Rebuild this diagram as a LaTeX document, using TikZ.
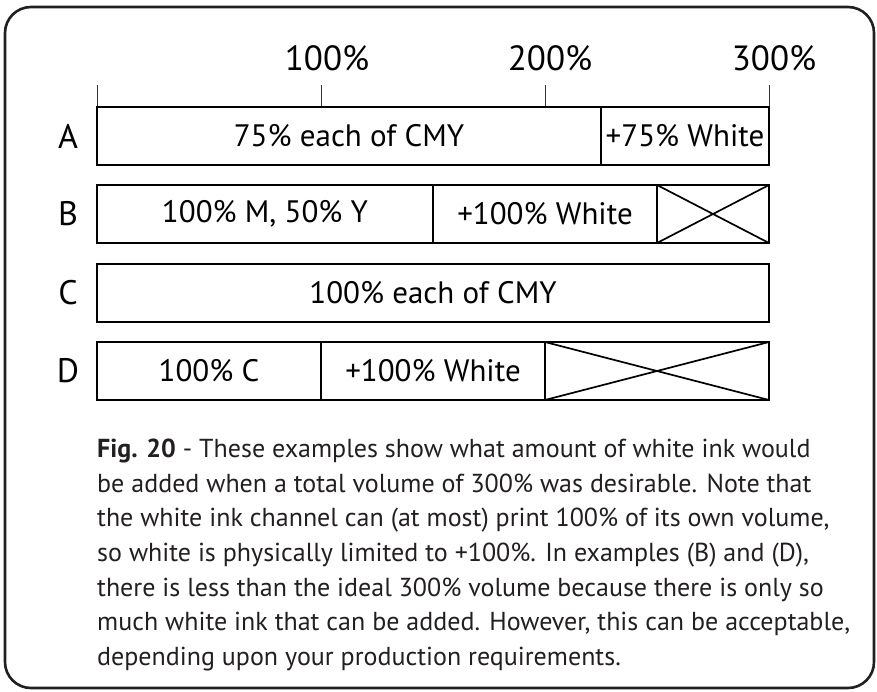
\documentclass[tikz,border=0pt]{standalone}
\usepackage{fontspec}
\setmainfont{PT Sans}
\definecolor{ink}{HTML}{231F20}
\tikzset{
  seg/.style={draw=black, line width=1.6pt, minimum height=58pt, inner sep=0pt, outer sep=0pt, anchor=north west, font=\fontsize{31}{36}\selectfont, text=black},
  rowlab/.style={font=\fontsize{34}{40}\selectfont, text=black, anchor=center},
  ticklab/.style={font=\fontsize{35}{40}\selectfont, text=black, anchor=base},
  tickline/.style={draw=black!80, line width=0.8pt},
  capline/.style={font=\fontsize{26}{34}\selectfont, text=ink, anchor=base west, inner sep=0pt},
  crossline/.style={draw=black, line width=1.7pt},
}
\begin{document}
\begin{tikzpicture}[x=1pt,y=-1pt]
\useasboundingbox (0,0) rectangle (877,691);
\draw[line width=2.6pt, rounded corners=26pt, draw=ink] (5,7) rectangle (874,688);

% scale
\coordinate (t0) at (97,85);
\coordinate (t1) at (321,85);
\coordinate (t2) at (545,85);
\coordinate (t3) at (769,85);
\coordinate (b0) at (97,107);
\coordinate (b1) at (321,107);
\coordinate (b2) at (545,107);
\coordinate (b3) at (769,107);
\draw[tickline] (t0) -- (b0);
\draw[tickline] (t1) -- (b1);
\draw[tickline] (t2) -- (b2);
\draw[tickline] (t3) -- (b3);
\node[ticklab] (l100) at (327,70) {100\%};
\node[ticklab] (l200) at (550,70) {200\%};
\node[ticklab] (l300) at (774,70) {300\%};

% row A
\node[seg, minimum width=504pt] (a1) at (97,107) {75\% each of CMY};
\node[seg, minimum width=168pt] (a2) at (601,107) {+75\% White};
% row B
\node[seg, minimum width=336pt] (bb1) at (97,185) {100\% M, 50\% Y};
\node[seg, minimum width=224pt] (bb2) at (433,185) {+100\% White};
\node[seg, minimum width=112pt] (bb3) at (657,185) {};
\draw[crossline] (bb3.north west) -- (bb3.south east);
\draw[crossline] (bb3.south west) -- (bb3.north east);
% row C
\node[seg, minimum width=672pt] (c1) at (97,264) {100\% each of CMY};
% row D
\node[seg, minimum width=224pt] (d1) at (97,342) {100\% C};
\node[seg, minimum width=224pt] (d2) at (321,342) {+100\% White};
\node[seg, minimum width=224pt] (d3) at (545,342) {};
\draw[crossline] (d3.north west) -- (d3.south east);
\draw[crossline] (d3.south west) -- (d3.north east);

% row labels
\node[rowlab] (la) at (68,136) {A};
\node[rowlab] (lb) at (68,214) {B};
\node[rowlab] (lc) at (68,293) {C};
\node[rowlab] (ld) at (68,371) {D};

% caption
\node[capline] (cap1) at (97,457) {\textbf{Fig. 20} - These examples show what amount of white ink would};
\node[capline] (cap2) at (97,492) {be added when a total volume of 300\% was desirable. Note that};
\node[capline] (cap3) at (97,526) {the white ink channel can (at most) print 100\% of its own volume,};
\node[capline] (cap4) at (97,561) {so white is physically limited to +100\%. In examples (B) and (D),};
\node[capline] (cap5) at (97,596) {there is less than the ideal 300\% volume because there is only so};
\node[capline] (cap6) at (97,630) {much white ink that can be added. However, this can be acceptable,};
\node[capline] (cap7) at (97,665) {depending upon your production requirements.};
\end{tikzpicture}
\end{document}
